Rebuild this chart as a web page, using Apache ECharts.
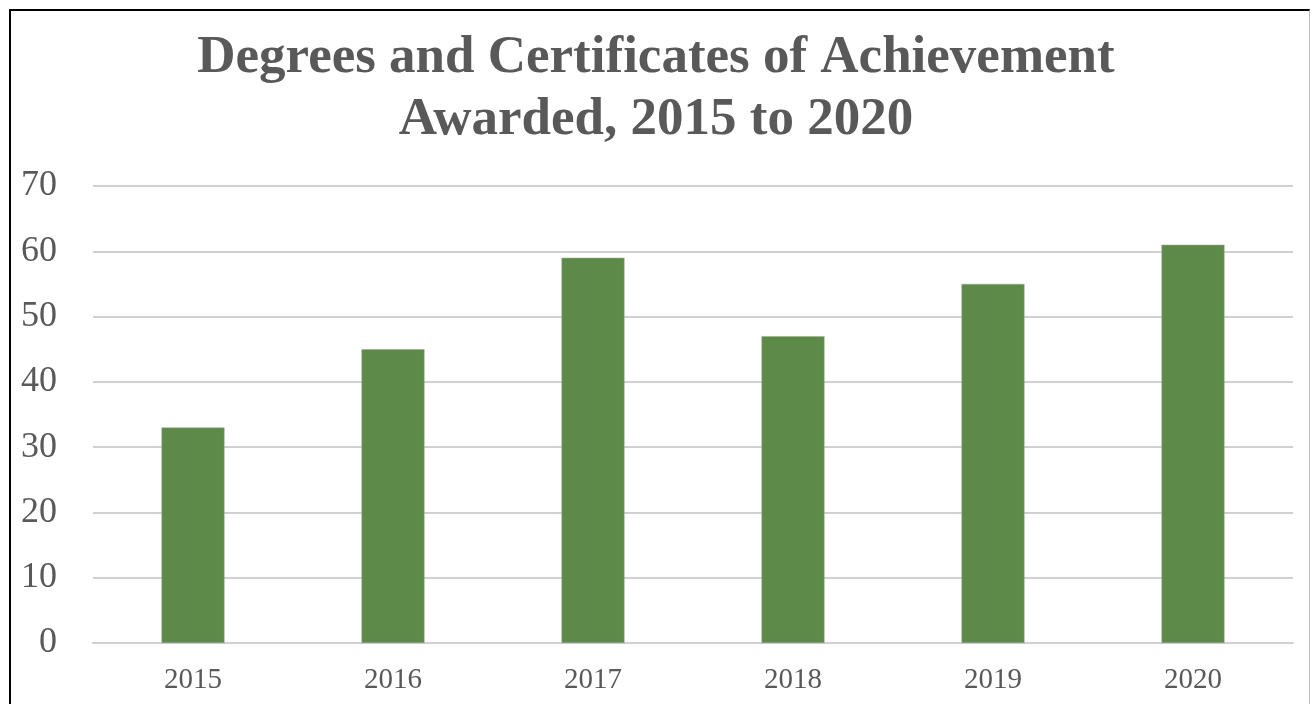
<!DOCTYPE html>
<html><head><meta charset="utf-8">
<script src="https://cdn.jsdelivr.net/npm/echarts@6/dist/echarts.min.js"></script>
<style>
html,body{margin:0;padding:0;background:#fff;}
#frame{position:absolute;left:9px;top:9px;width:1301px;height:700px;border-left:2px solid #000;border-top:2px solid #000;border-right:1px solid #bbb;box-sizing:border-box;}
#c{position:absolute;left:0;top:0;width:1312px;height:704px;}
</style></head>
<body>
<div id="frame"></div>
<div id="c"></div>
<script>
const titleLines = ['Degrees and Certificates of Achievement', 'Awarded, 2015 to 2020'];
const categories = ['2015','2016','2017','2018','2019','2020'];
const values = [33, 45, 59, 47, 55, 61];
const yTicks = [0,10,20,30,40,50,60,70];

const chart = echarts.init(document.getElementById('c'));
const serif = '"Liberation Serif", "DejaVu Serif", serif';
chart.setOption({
  animation:false,
  title:{text:titleLines.join('\n'), left:'center', top:22,
    textStyle:{fontFamily:serif, fontWeight:'bold', fontSize:53, color:'#595959', lineHeight:62}},
  grid:{left:93, right:19, top:186, bottom:61},
  xAxis:{type:'category', data:categories,
    axisLine:{lineStyle:{color:'#d0d0d0', width:2}}, axisTick:{show:false},
    axisLabel:{fontFamily:serif, fontSize:29, color:'#595959', margin:23}},
  yAxis:{type:'value', min:yTicks[0], max:yTicks[yTicks.length-1], interval:10,
    axisLine:{show:false}, axisTick:{show:false},
    splitLine:{lineStyle:{color:'#d0d0d0', width:2}},
    axisLabel:{fontFamily:serif, fontSize:36, color:'#595959', margin:36}},
  series:[{type:'bar', data:values, barWidth:'31.5%',
    itemStyle:{color:'#5e8a49', borderColor:'#9aa596', borderWidth:0.5}}]
});
</script>
</body></html>
